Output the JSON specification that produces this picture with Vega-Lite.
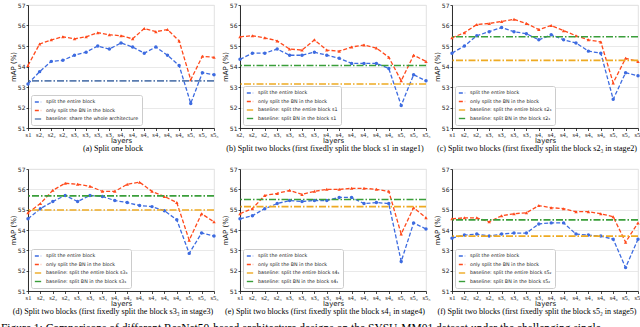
{
"$schema":"https://vega.github.io/schema/vega-lite/v6.json",
"background":"white",
"padding":{"left":0,"top":1,"right":0,"bottom":0},
"datasets":{
"a":[{"l":"s1","entire":53.15,"bn":54.05},{"l":"s2₁","entire":53.75,"bn":55.1},{"l":"s2₂","entire":54.25,"bn":55.3},{"l":"s2₃","entire":54.3,"bn":55.45},{"l":"s3₁","entire":54.55,"bn":55.35},{"l":"s3₂","entire":54.7,"bn":55.45},{"l":"s3₃","entire":55.0,"bn":55.65},{"l":"s3₄","entire":54.85,"bn":55.55},{"l":"s4₁","entire":55.15,"bn":55.5},{"l":"s4₂","entire":54.95,"bn":55.35},{"l":"s4₃","entire":54.65,"bn":55.85},{"l":"s4₄","entire":54.95,"bn":55.7},{"l":"s4₅","entire":54.55,"bn":55.8},{"l":"s4₆","entire":54.05,"bn":55.25},{"l":"s5₁","entire":52.2,"bn":53.35},{"l":"s5₂","entire":53.7,"bn":54.5},{"l":"s5₃","entire":53.6,"bn":54.45}],
"b":[{"l":"s2₁","entire":54.35,"bn":55.45},{"l":"s2₂","entire":54.65,"bn":55.5},{"l":"s2₃","entire":54.65,"bn":55.4},{"l":"s3₁","entire":54.85,"bn":55.25},{"l":"s3₂","entire":54.55,"bn":54.85},{"l":"s3₃","entire":54.55,"bn":54.8},{"l":"s3₄","entire":54.7,"bn":55.3},{"l":"s4₁","entire":54.55,"bn":54.8},{"l":"s4₂","entire":54.4,"bn":54.75},{"l":"s4₃","entire":54.15,"bn":54.95},{"l":"s4₄","entire":54.15,"bn":55.05},{"l":"s4₅","entire":54.15,"bn":54.9},{"l":"s4₆","entire":53.9,"bn":54.45},{"l":"s5₁","entire":52.1,"bn":53.3},{"l":"s5₂","entire":53.6,"bn":54.55},{"l":"s5₃","entire":53.3,"bn":54.25}],
"c":[{"l":"s1","entire":54.65,"bn":55.4},{"l":"s2₁","entire":55.0,"bn":55.65},{"l":"s2₂","entire":55.5,"bn":56.05},{"l":"s3₁","entire":55.7,"bn":56.1},{"l":"s3₂","entire":55.9,"bn":56.2},{"l":"s3₃","entire":55.7,"bn":56.3},{"l":"s3₄","entire":55.6,"bn":56.1},{"l":"s4₁","entire":55.3,"bn":55.8},{"l":"s4₂","entire":55.55,"bn":56.0},{"l":"s4₃","entire":55.3,"bn":55.75},{"l":"s4₄","entire":55.15,"bn":55.5},{"l":"s4₅","entire":54.75,"bn":55.3},{"l":"s4₆","entire":54.65,"bn":55.2},{"l":"s5₁","entire":52.4,"bn":53.2},{"l":"s5₂","entire":53.7,"bn":54.4},{"l":"s5₃","entire":53.55,"bn":54.25}],
"d":[{"l":"s1","entire":54.55,"bn":54.85},{"l":"s2₁","entire":55.05,"bn":55.3},{"l":"s2₂","entire":55.4,"bn":55.95},{"l":"s2₃","entire":55.7,"bn":56.3},{"l":"s3₁","entire":55.4,"bn":56.25},{"l":"s3₂","entire":55.7,"bn":56.15},{"l":"s3₄","entire":55.65,"bn":55.9},{"l":"s4₁","entire":55.45,"bn":55.9},{"l":"s4₂","entire":55.35,"bn":56.25},{"l":"s4₃","entire":55.2,"bn":56.35},{"l":"s4₄","entire":55.15,"bn":55.9},{"l":"s4₅","entire":54.95,"bn":55.65},{"l":"s4₆","entire":54.5,"bn":55.35},{"l":"s5₁","entire":52.85,"bn":53.5},{"l":"s5₂","entire":53.85,"bn":54.8},{"l":"s5₃","entire":53.7,"bn":54.4}],
"e":[{"l":"s1","entire":54.55,"bn":54.8},{"l":"s2₁","entire":54.7,"bn":55.05},{"l":"s2₂","entire":55.05,"bn":55.7},{"l":"s2₃","entire":55.3,"bn":55.8},{"l":"s3₁","entire":55.45,"bn":55.95},{"l":"s3₂","entire":55.4,"bn":55.75},{"l":"s3₃","entire":55.45,"bn":55.9},{"l":"s3₄","entire":55.45,"bn":56.0},{"l":"s4₂","entire":55.6,"bn":56.0},{"l":"s4₃","entire":55.6,"bn":56.05},{"l":"s4₄","entire":55.3,"bn":56.05},{"l":"s4₅","entire":55.35,"bn":56.0},{"l":"s4₆","entire":55.3,"bn":55.9},{"l":"s5₁","entire":52.45,"bn":53.8},{"l":"s5₂","entire":54.35,"bn":55.1},{"l":"s5₃","entire":54.05,"bn":54.6}],
"f":[{"l":"s1","entire":53.6,"bn":54.55},{"l":"s2₁","entire":53.75,"bn":54.6},{"l":"s2₂","entire":53.8,"bn":54.6},{"l":"s2₃","entire":53.7,"bn":54.4},{"l":"s3₁","entire":53.8,"bn":54.7},{"l":"s3₂","entire":53.85,"bn":54.8},{"l":"s3₃","entire":53.85,"bn":54.85},{"l":"s3₄","entire":54.3,"bn":55.2},{"l":"s4₁","entire":54.35,"bn":55.1},{"l":"s4₂","entire":54.35,"bn":55.05},{"l":"s4₃","entire":53.8,"bn":54.9},{"l":"s4₄","entire":53.75,"bn":54.9},{"l":"s4₅","entire":53.7,"bn":54.8},{"l":"s4₆","entire":53.55,"bn":54.65},{"l":"s5₁","entire":52.15,"bn":53.4},{"l":"s5₃","entire":53.55,"bn":54.35}]
},
"title":{"text":"Figure 1: Comparisons of different ResNet50-based architecture designs on the SYSU-MM01 dataset under the challenging single","orient":"bottom","anchor":"start","font":"Liberation Serif","fontSize":11.5,"fontWeight":"normal","color":"black","offset":6},
"spacing":11,
"vconcat":[
{"bounds":"flush","spacing":26,"hconcat":[
{"width":186,"height":123,
"title":{"text":"(a) Split one block"},
"data":{"name":"a"},
"encoding":{"y":{"field":"v","type":"quantitative","scale":{"domain":[51,57],"nice":false},"title":"mAP (%)","axis":{"values":[51,52,53,54,55,56,57],"tickCount":7,"labelOverlap":false}}},
"layer":[
{"transform":[{"fold":["entire","bn"],"as":["s","v"]}],"mark":{"type":"line","strokeWidth":1.3},
"encoding":{"x":{"field":"l","type":"ordinal","scale":{"type":"point","padding":0,"domain":["s1","s2₁","s2₂","s2₃","s3₁","s3₂","s3₃","s3₄","s4₁","s4₂","s4₃","s4₄","s4₅","s4₆","s5₁","s5₂","s5₃"]},"title":"layers"},
"color":{"field":"s","type":"nominal","title":null,"scale":{"domain":["entire","bn","base"],"range":["#3d6be0","#ff4a1c","#5a7cb0"]},"legend":{"labelExpr":"{'entire':'split the entire block','bn':'only split the BN in the block','base':'baseline: share the whole architecture'}[datum.label]"}},
"strokeDash":{"field":"s","type":"nominal","title":null,"scale":{"domain":["entire","bn","base"],"range":[[4,2],[4,2],[7,2,1.5,2]]}}}},
{"transform":[{"fold":["entire","bn"],"as":["s","v"]}],"mark":{"type":"point","filled":true,"size":12,"opacity":1},
"encoding":{"x":{"field":"l","type":"ordinal"},"color":{"field":"s","type":"nominal","title":null},"shape":{"field":"s","type":"nominal","scale":{"domain":["entire","bn"],"range":["circle","triangle-up"]},"legend":null}}},
{"data":{"values":[{"s":"base","v":53.3}]},"mark":{"type":"rule","strokeWidth":1.6},
"encoding":{"color":{"field":"s","type":"nominal","title":null},"strokeDash":{"field":"s","type":"nominal","title":null}}}
]},
{"width":186,"height":123,
"title":{"text":"(b) Split two blocks (first fixedly split the block s1 in stage1)"},
"data":{"name":"b"},
"encoding":{"y":{"field":"v","type":"quantitative","scale":{"domain":[51,57],"nice":false},"title":"mAP (%)","axis":{"values":[51,52,53,54,55,56,57],"tickCount":7,"labelOverlap":false}}},
"layer":[
{"transform":[{"fold":["entire","bn"],"as":["s","v"]}],"mark":{"type":"line","strokeWidth":1.3},
"encoding":{"x":{"field":"l","type":"ordinal","scale":{"type":"point","padding":0,"domain":["s2₁","s2₂","s2₃","s3₁","s3₂","s3₃","s3₄","s4₁","s4₂","s4₃","s4₄","s4₅","s4₆","s5₁","s5₂","s5₃"]},"title":"layers"},
"color":{"field":"s","type":"nominal","title":null,"scale":{"domain":["entire","bn","base1","base2"],"range":["#3d6be0","#ff4a1c","#eeaa22","#3a9e3a"]},"legend":{"labelExpr":"{'entire':'split the entire block','bn':'only split the BN in the block','base1':'baseline: split the entire block s1','base2':'baseline: split BN in the block s1'}[datum.label]"}},
"strokeDash":{"field":"s","type":"nominal","title":null,"scale":{"domain":["entire","bn","base1","base2"],"range":[[4,2],[4,2],[7,2,1.5,2],[7,2,1.5,2]]}}}},
{"transform":[{"fold":["entire","bn"],"as":["s","v"]}],"mark":{"type":"point","filled":true,"size":12,"opacity":1},
"encoding":{"x":{"field":"l","type":"ordinal"},"color":{"field":"s","type":"nominal","title":null},"shape":{"field":"s","type":"nominal","scale":{"domain":["entire","bn"],"range":["circle","triangle-up"]},"legend":null}}},
{"data":{"values":[{"s":"base1","v":53.15},{"s":"base2","v":54.05}]},"mark":{"type":"rule","strokeWidth":1.6},
"encoding":{"color":{"field":"s","type":"nominal","title":null},"strokeDash":{"field":"s","type":"nominal","title":null}}}
]},
{"width":186,"height":123,
"title":{"text":"(c) Split two blocks (first fixedly split the block s2₃ in stage2)"},
"data":{"name":"c"},
"encoding":{"y":{"field":"v","type":"quantitative","scale":{"domain":[51,57],"nice":false},"title":"mAP (%)","axis":{"values":[51,52,53,54,55,56,57],"tickCount":7,"labelOverlap":false}}},
"layer":[
{"transform":[{"fold":["entire","bn"],"as":["s","v"]}],"mark":{"type":"line","strokeWidth":1.3},
"encoding":{"x":{"field":"l","type":"ordinal","scale":{"type":"point","padding":0,"domain":["s1","s2₁","s2₂","s3₁","s3₂","s3₃","s3₄","s4₁","s4₂","s4₃","s4₄","s4₅","s4₆","s5₁","s5₂","s5₃"]},"title":"layers"},
"color":{"field":"s","type":"nominal","title":null,"scale":{"domain":["entire","bn","base1","base2"],"range":["#3d6be0","#ff4a1c","#eeaa22","#3a9e3a"]},"legend":{"labelExpr":"{'entire':'split the entire block','bn':'only split the BN in the block','base1':'baseline: split the entire block s2₃','base2':'baseline: split BN in the block s2₃'}[datum.label]"}},
"strokeDash":{"field":"s","type":"nominal","title":null,"scale":{"domain":["entire","bn","base1","base2"],"range":[[4,2],[4,2],[7,2,1.5,2],[7,2,1.5,2]]}}}},
{"transform":[{"fold":["entire","bn"],"as":["s","v"]}],"mark":{"type":"point","filled":true,"size":12,"opacity":1},
"encoding":{"x":{"field":"l","type":"ordinal"},"color":{"field":"s","type":"nominal","title":null},"shape":{"field":"s","type":"nominal","scale":{"domain":["entire","bn"],"range":["circle","triangle-up"]},"legend":null}}},
{"data":{"values":[{"s":"base1","v":54.3},{"s":"base2","v":55.45}]},"mark":{"type":"rule","strokeWidth":1.6},
"encoding":{"color":{"field":"s","type":"nominal","title":null},"strokeDash":{"field":"s","type":"nominal","title":null}}}
]}
],"resolve":{"scale":{"color":"independent","strokeDash":"independent","shape":"independent","x":"independent","y":"independent"},"legend":{"color":"independent","strokeDash":"independent"}}},
{"bounds":"flush","spacing":26,"hconcat":[
{"width":186,"height":122,
"title":{"text":"(d) Split two blocks (first fixedly split the block s3₃ in stage3)"},
"data":{"name":"d"},
"encoding":{"y":{"field":"v","type":"quantitative","scale":{"domain":[51,57],"nice":false},"title":"mAP (%)","axis":{"values":[51,52,53,54,55,56,57],"tickCount":7,"labelOverlap":false}}},
"layer":[
{"transform":[{"fold":["entire","bn"],"as":["s","v"]}],"mark":{"type":"line","strokeWidth":1.3},
"encoding":{"x":{"field":"l","type":"ordinal","scale":{"type":"point","padding":0,"domain":["s1","s2₁","s2₂","s2₃","s3₁","s3₂","s3₄","s4₁","s4₂","s4₃","s4₄","s4₅","s4₆","s5₁","s5₂","s5₃"]},"title":"layers"},
"color":{"field":"s","type":"nominal","title":null,"scale":{"domain":["entire","bn","base1","base2"],"range":["#3d6be0","#ff4a1c","#eeaa22","#3a9e3a"]},"legend":{"labelExpr":"{'entire':'split the entire block','bn':'only split the BN in the block','base1':'baseline: split the entire block s3₃','base2':'baseline: split BN in the block s3₃'}[datum.label]"}},
"strokeDash":{"field":"s","type":"nominal","title":null,"scale":{"domain":["entire","bn","base1","base2"],"range":[[4,2],[4,2],[7,2,1.5,2],[7,2,1.5,2]]}}}},
{"transform":[{"fold":["entire","bn"],"as":["s","v"]}],"mark":{"type":"point","filled":true,"size":12,"opacity":1},
"encoding":{"x":{"field":"l","type":"ordinal"},"color":{"field":"s","type":"nominal","title":null},"shape":{"field":"s","type":"nominal","scale":{"domain":["entire","bn"],"range":["circle","triangle-up"]},"legend":null}}},
{"data":{"values":[{"s":"base1","v":54.98},{"s":"base2","v":55.68}]},"mark":{"type":"rule","strokeWidth":1.6},
"encoding":{"color":{"field":"s","type":"nominal","title":null},"strokeDash":{"field":"s","type":"nominal","title":null}}}
]},
{"width":186,"height":122,
"title":{"text":"(e) Split two blocks (first fixedly split the block s4₁ in stage4)"},
"data":{"name":"e"},
"encoding":{"y":{"field":"v","type":"quantitative","scale":{"domain":[51,57],"nice":false},"title":"mAP (%)","axis":{"values":[51,52,53,54,55,56,57],"tickCount":7,"labelOverlap":false}}},
"layer":[
{"transform":[{"fold":["entire","bn"],"as":["s","v"]}],"mark":{"type":"line","strokeWidth":1.3},
"encoding":{"x":{"field":"l","type":"ordinal","scale":{"type":"point","padding":0,"domain":["s1","s2₁","s2₂","s2₃","s3₁","s3₂","s3₃","s3₄","s4₂","s4₃","s4₄","s4₅","s4₆","s5₁","s5₂","s5₃"]},"title":"layers"},
"color":{"field":"s","type":"nominal","title":null,"scale":{"domain":["entire","bn","base1","base2"],"range":["#3d6be0","#ff4a1c","#eeaa22","#3a9e3a"]},"legend":{"labelExpr":"{'entire':'split the entire block','bn':'only split the BN in the block','base1':'baseline: split the entire block s4₁','base2':'baseline: split BN in the block s4₁'}[datum.label]"}},
"strokeDash":{"field":"s","type":"nominal","title":null,"scale":{"domain":["entire","bn","base1","base2"],"range":[[4,2],[4,2],[7,2,1.5,2],[7,2,1.5,2]]}}}},
{"transform":[{"fold":["entire","bn"],"as":["s","v"]}],"mark":{"type":"point","filled":true,"size":12,"opacity":1},
"encoding":{"x":{"field":"l","type":"ordinal"},"color":{"field":"s","type":"nominal","title":null},"shape":{"field":"s","type":"nominal","scale":{"domain":["entire","bn"],"range":["circle","triangle-up"]},"legend":null}}},
{"data":{"values":[{"s":"base1","v":55.15},{"s":"base2","v":55.5}]},"mark":{"type":"rule","strokeWidth":1.6},
"encoding":{"color":{"field":"s","type":"nominal","title":null},"strokeDash":{"field":"s","type":"nominal","title":null}}}
]},
{"width":186,"height":122,
"title":{"text":"(f) Split two blocks (first fixedly split the block s5₂ in stage5)"},
"data":{"name":"f"},
"encoding":{"y":{"field":"v","type":"quantitative","scale":{"domain":[51,57],"nice":false},"title":"mAP (%)","axis":{"values":[51,52,53,54,55,56,57],"tickCount":7,"labelOverlap":false}}},
"layer":[
{"transform":[{"fold":["entire","bn"],"as":["s","v"]}],"mark":{"type":"line","strokeWidth":1.3},
"encoding":{"x":{"field":"l","type":"ordinal","scale":{"type":"point","padding":0,"domain":["s1","s2₁","s2₂","s2₃","s3₁","s3₂","s3₃","s3₄","s4₁","s4₂","s4₃","s4₄","s4₅","s4₆","s5₁","s5₃"]},"title":"layers"},
"color":{"field":"s","type":"nominal","title":null,"scale":{"domain":["entire","bn","base1","base2"],"range":["#3d6be0","#ff4a1c","#eeaa22","#3a9e3a"]},"legend":{"labelExpr":"{'entire':'split the entire block','bn':'only split the BN in the block','base1':'baseline: split the entire block s5₂','base2':'baseline: split BN in the block s5₂'}[datum.label]"}},
"strokeDash":{"field":"s","type":"nominal","title":null,"scale":{"domain":["entire","bn","base1","base2"],"range":[[4,2],[4,2],[7,2,1.5,2],[7,2,1.5,2]]}}}},
{"transform":[{"fold":["entire","bn"],"as":["s","v"]}],"mark":{"type":"point","filled":true,"size":12,"opacity":1},
"encoding":{"x":{"field":"l","type":"ordinal"},"color":{"field":"s","type":"nominal","title":null},"shape":{"field":"s","type":"nominal","scale":{"domain":["entire","bn"],"range":["circle","triangle-up"]},"legend":null}}},
{"data":{"values":[{"s":"base1","v":53.7},{"s":"base2","v":54.5}]},"mark":{"type":"rule","strokeWidth":1.6},
"encoding":{"color":{"field":"s","type":"nominal","title":null},"strokeDash":{"field":"s","type":"nominal","title":null}}}
]}
],"resolve":{"scale":{"color":"independent","strokeDash":"independent","shape":"independent","x":"independent","y":"independent"},"legend":{"color":"independent","strokeDash":"independent"}}}
],
"resolve":{"scale":{"color":"independent","strokeDash":"independent","shape":"independent","x":"independent","y":"independent"},"legend":{"color":"independent","strokeDash":"independent"}},
"config":{
"view":{"stroke":"#d9d9d9","strokeWidth":0.8},
"title":{"orient":"bottom","font":"Liberation Serif","fontSize":8.1,"fontWeight":"normal","color":"black","offset":2,"dx":-8},
"axis":{"gridColor":"#e3e3e3","gridWidth":0.8,"domainColor":"black","domainWidth":0.8,"tickColor":"black","tickSize":2.5,"tickWidth":0.7,"labelFontSize":6.5,"labelColor":"#222","titleFontSize":7,"titleFont":"DejaVu Sans","titleFontWeight":"normal","titleColor":"#111","labelPadding":1.5,"labelOverlap":false,"labelBound":false},
"axisX":{"labelFont":"Liberation Serif","labelAngle":0,"labelFontSize":6.5,"titlePadding":-2,"labelPadding":1},
"axisY":{"labelFont":"DejaVu Sans","labelFontSize":6,"titlePadding":1,"labelPadding":1,"tickSize":2,"labelOverlap":false},
"legend":{"orient":"bottom-left","offset":3,"fillColor":"white","strokeColor":"#cccccc","padding":3,"cornerRadius":2,"symbolType":"stroke","symbolSize":40,"symbolStrokeWidth":1.4,"labelFontSize":4.8,"labelFont":"DejaVu Sans","labelColor":"#222","rowPadding":1.5,"labelOffset":4}
}
}
